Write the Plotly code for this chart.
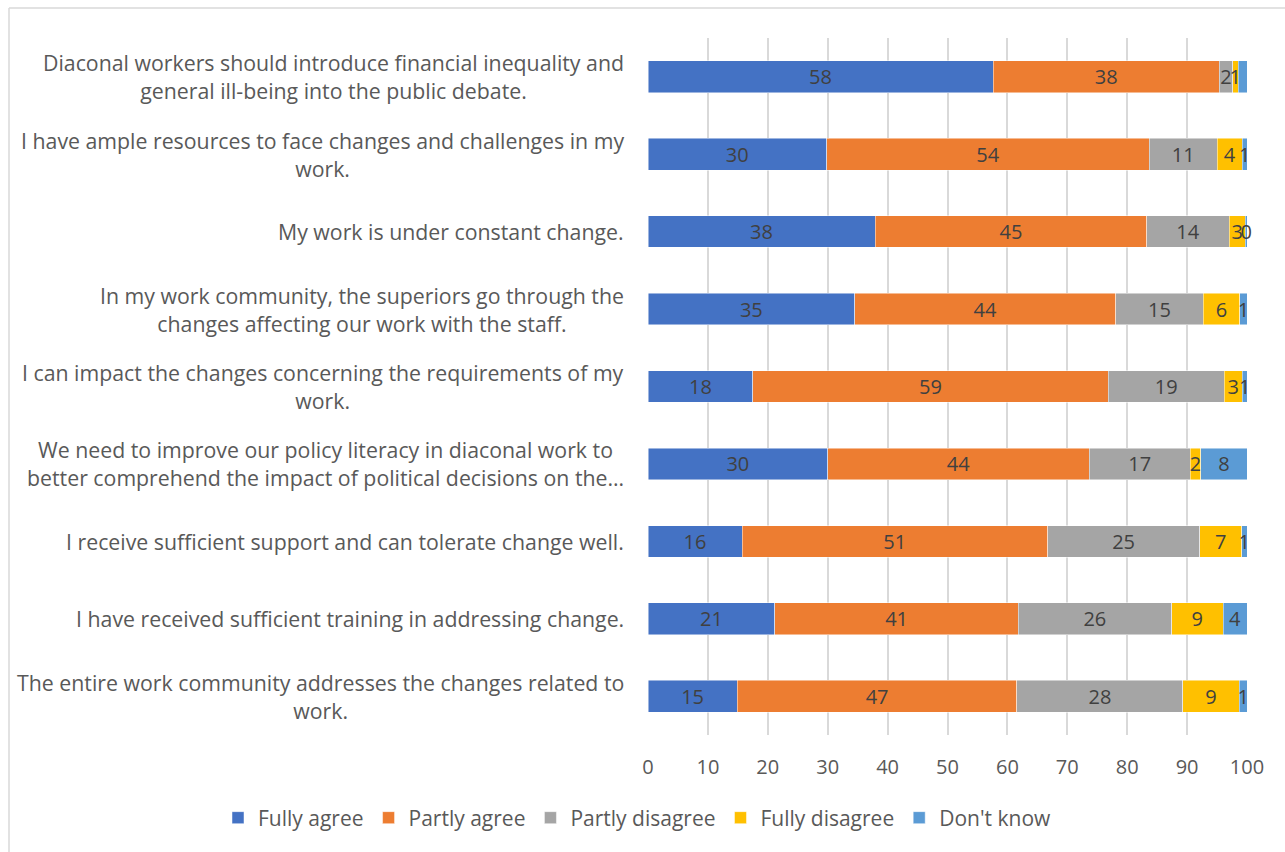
import plotly.graph_objects as go

categories = [
    "Diaconal workers should introduce financial inequality and<br>general ill-being into the public debate.",
    "I have ample resources to face changes and challenges in my<br>work.",
    "My work is under constant change.",
    "In my work community, the superiors go through the<br>changes affecting our work with the staff.",
    "I can impact the changes concerning the requirements of my<br>work.",
    "We need to improve our policy literacy in diaconal work to<br>better comprehend the impact of political decisions on the…",
    "I receive sufficient support and can tolerate change well.",
    "I have received sufficient training in addressing change.",
    "The entire work community addresses the changes related to<br>work.",
]

fully_agree = [57.6, 29.8, 37.9, 34.5, 17.5, 30.0, 15.7, 21.2, 14.9]
partly_agree = [37.8, 53.9, 45.4, 43.6, 59.3, 43.7, 51.0, 40.6, 46.7]
partly_disagree = [2.2, 11.3, 13.7, 14.6, 19.4, 16.8, 25.4, 25.6, 27.7]
fully_disagree = [0.9, 4.2, 2.7, 6.1, 3.0, 1.8, 7.0, 8.6, 9.4]
dont_know = [1.5, 0.8, 0.3, 1.2, 0.8, 7.7, 0.9, 4.0, 1.3]

series = [
    ("Fully agree", fully_agree, "#4472C4"),
    ("Partly agree", partly_agree, "#ED7D31"),
    ("Partly disagree", partly_disagree, "#A5A5A5"),
    ("Fully disagree", fully_disagree, "#FFC000"),
    ("Don't know", dont_know, "#5B9BD5"),
]

FONT = "Open Sans"
fig = go.Figure()
for name, vals, col in series:
    fig.add_trace(go.Bar(
        y=categories, x=vals, name=name, orientation="h",
        marker=dict(color=col, line=dict(color="rgba(255,255,255,0.6)", width=0.8)),
        text=vals, texttemplate="%{x:.0f}", textposition="inside",
        insidetextanchor="middle", textangle=0, cliponaxis=False,
        textfont=dict(family=FONT, size=20, color="#404040"),
    ))

L, T, W, H = 648, 38, 599, 697
fig.update_layout(
    width=1285, height=852,
    barmode="stack", bargap=0.59,
    margin=dict(l=L, r=1285 - L - W, t=T, b=852 - T - H, autoexpand=False),
    paper_bgcolor="white", plot_bgcolor="white",
    uniformtext=dict(mode="show", minsize=20),
    font=dict(family=FONT, color="#595959"),
    xaxis=dict(range=[0, 100], dtick=10, showgrid=True, gridcolor="#D9D9D9", gridwidth=1.5,
               zeroline=False, showline=False, ticks="", ticklabelstandoff=18,
               tickfont=dict(family=FONT, size=20, color="#595959")),
    yaxis=dict(autorange="reversed", showticklabels=False, showgrid=False, zeroline=False,
               showline=False),
    legend=dict(orientation="h", x=(218 - L) / W, xanchor="left",
                y=(T + H - 818) / H, yanchor="middle",
                font=dict(family=FONT, size=21, color="#595959"), traceorder="normal",
                itemwidth=30),
    showlegend=True,
)

for c in categories:
    fig.add_annotation(x=0, y=c, xref="paper", yref="y", text=c, showarrow=False,
                       xanchor="right", xshift=-22, align="center",
                       font=dict(family=FONT, size=21.3, color="#595959"))

# chart area border (left and top visible)
fig.add_shape(type="line", xref="paper", yref="paper",
              x0=(9 - L) / W, x1=(9 - L) / W, y0=1 + (T - 8) / H, y1=-0.3,
              line=dict(color="#D9D9D9", width=1.5))
fig.add_shape(type="line", xref="paper", yref="paper",
              x0=(9 - L) / W, x1=1.2, y0=1 + (T - 8) / H, y1=1 + (T - 8) / H,
              line=dict(color="#D9D9D9", width=1.5))

fig.write_html("out.html")
